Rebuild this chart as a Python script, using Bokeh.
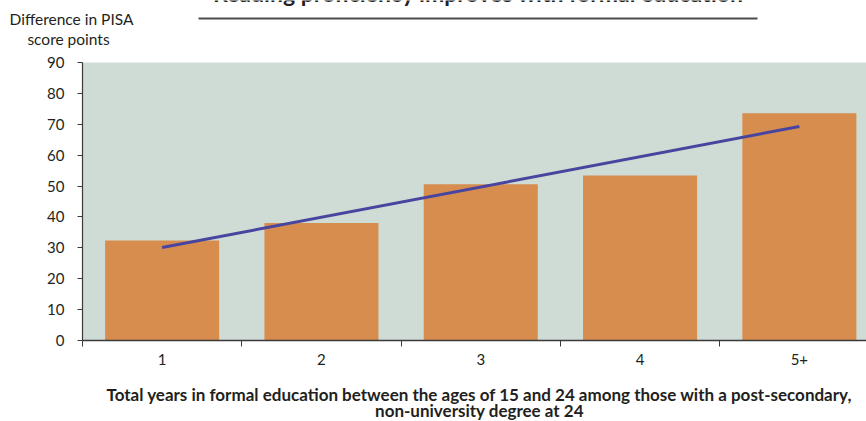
from bokeh.plotting import figure
from bokeh.models import Range1d, FixedTicker, Label, Arrow, BoxAnnotation
from bokeh.embed import file_html
from bokeh.resources import INLINE

categories = ["1", "2", "3", "4", "5+"]
values = [32.4, 38.0, 50.6, 53.4, 73.6]
trend_start = 30.1
trend_end = 69.3
y_ticks = [0, 10, 20, 30, 40, 50, 60, 70, 80, 90]

title_text = "Reading proficiency improves with formal education"
y_title = ["Difference in PISA", "score points"]
x_title = ["Total years in formal education between the ages of 15 and 24 among those with a post-secondary,",
           "non-university degree at 24"]

FONT = "Lato"
TEXT = "#231f20"
AXIS = "#3a3a3a"

W, H = 866, 421
# plotting area in pixels: left 82, top 62, bottom 340; one category = 159.3 px
px_per_cat = 159.3
px_per_unit = 278 / 90.0
xs = [i + 0.5 for i in range(len(categories))]
bounds = list(range(len(categories) + 1))
x_end = (W - 82) / px_per_cat

p = figure(width=W, height=H, output_backend="svg", toolbar_location=None,
           x_range=Range1d(-82 / px_per_cat, x_end),
           y_range=Range1d(-(H - 340) / px_per_unit, 90 + 62 / px_per_unit),
           min_border=0, min_border_left=0, min_border_right=0, min_border_top=0, min_border_bottom=0)
p.outline_line_color = None
p.background_fill_color = "white"
p.border_fill_color = "white"
p.xgrid.visible = False
p.ygrid.visible = False

p.add_layout(BoxAnnotation(left=0, bottom=0, top=y_ticks[-1], fill_color="#cfdbd5", fill_alpha=1.0,
                           line_color=None, level="underlay"))

p.vbar(x=xs, top=values, width=0.716, color="#d78d4e", line_color=None)
p.line(x=[xs[0], xs[-1]], y=[trend_start, trend_end], line_color="#4845a0", line_width=3)

# y axis
ya = p.yaxis[0]
ya.fixed_location = 0
ya.bounds = (0, y_ticks[-1])
ya.ticker = FixedTicker(ticks=y_ticks)
ya.axis_line_color = AXIS
ya.axis_line_width = 1.2
ya.major_tick_line_color = AXIS
ya.major_tick_out = 5
ya.major_tick_in = 0
ya.minor_tick_line_color = None
ya.major_label_text_font = FONT
ya.major_label_text_font_size = "15px"
ya.major_label_text_color = TEXT
ya.major_label_standoff = 13

# x axis
xa = p.xaxis[0]
xa.fixed_location = 0
xa.bounds = (0, x_end)
xa.ticker = FixedTicker(ticks=xs, minor_ticks=bounds)
xa.major_label_overrides = {x: c for x, c in zip(xs, categories)}
xa.axis_line_color = AXIS
xa.axis_line_width = 1.5
xa.major_tick_line_color = None
xa.major_tick_out = 0
xa.major_tick_in = 0
xa.minor_tick_out = 6
xa.minor_tick_in = 0
xa.minor_tick_line_color = AXIS
xa.major_label_text_font = FONT
xa.major_label_text_font_size = "15px"
xa.major_label_text_color = TEXT
xa.major_label_standoff = 7

# y title above the axis (screen units: from bottom-left of canvas)
for t, cx, cy in zip(y_title, [71, 68], [18, 38]):
    p.add_layout(Label(x=cx, y=H - cy, x_units="screen", y_units="screen", text=t,
                       text_align="center", text_baseline="middle", text_font=FONT,
                       text_font_size="15.5px", text_color=TEXT))

# x title
for t, cy in zip(x_title, [394, 410]):
    p.add_layout(Label(x=479, y=H - cy, x_units="screen", y_units="screen", text=t,
                       text_align="center", text_baseline="middle", text_font=FONT,
                       text_font_size="17px", text_font_style="bold", text_color=TEXT))

# chart title, mostly cut off at the top edge
p.add_layout(Label(x=478, y=H + 8, x_units="screen", y_units="screen", text=title_text,
                   text_align="center", text_baseline="alphabetic", text_font=FONT,
                   text_font_size="23px", text_font_style="bold", text_color=TEXT))
p.add_layout(Arrow(end=None, x_start=198, y_start=H - 18, x_end=757, y_end=H - 18,
                   start_units="screen", end_units="screen", line_color="#4d4d4d", line_width=2))

open("out.html", "w").write(file_html(p, INLINE))
